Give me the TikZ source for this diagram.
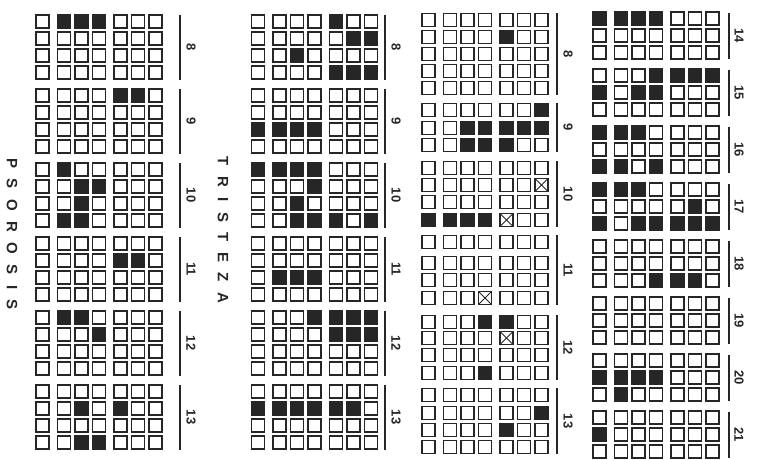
\documentclass[tikz,border=0pt]{standalone}
\usepackage{fontspec}
\usepackage{tikz}
\usetikzlibrary{positioning}
\newfontfamily\numfont{Liberation Sans}
\newfontfamily\titlefont[LetterSpace=70]{Liberation Sans}
\definecolor{ink}{RGB}{38,38,38}

\tikzset{
  cell/.style={draw=ink, line width=1.6pt},
  hit/.style={draw=ink, fill=ink, line width=1.6pt},
  xmark/.style={draw=ink, line width=0.8pt},
  bracket/.style={draw=ink, line width=1.3pt},
  num/.style={font=\numfont\bfseries\fontsize{13}{14}\selectfont, text=ink, rotate=-90, inner sep=0pt},
  title/.style={font=\titlefont\bfseries\fontsize{15}{16}\selectfont, text=ink, rotate=-90, inner sep=0pt}
}
% one square, centred at (#2,#3)
\newcommand{\cellat}[3]{\draw[#1] ({#2-6.5},{#3-6.5}) rectangle ++(13,13);}
% x offset of column #1 inside a band
\newcommand{\colpos}[1]{\pgfmathsetmacro\xo{{0,21.5,39,56.5,78,95.5,113}[#1-1]}}

\begin{document}
\begin{tikzpicture}[x=1pt,y=-1pt]
\useasboundingbox (0,0) rectangle (757,459);

% empty squares
\foreach \bx in {42.5,258}
  \foreach \g in {0,...,5}
    \foreach \r in {0,...,3}
      \foreach \xo in {0,21.5,39,56.5,78,95.5,113}
        {\cellat{cell}{\bx+\xo}{21.5+74*\g+17*\r}}
\foreach \y in {20,37,54,71,88,110,128,145,168,185,202,220,242,263,280,298,322,338,355,373,395,413,430,447}
  \foreach \xo in {0,21.5,39,56.5,78,95.5,113}
    {\cellat{cell}{428.5+\xo}{\y}}
\foreach \g in {0,...,7}
  \foreach \r in {0,1,2}
    \foreach \xo in {0,21.5,39,56.5,78,95.5,113}
      {\cellat{cell}{599.5+\xo}{18.5+57*\g+17*\r}}

% psorosis
\foreach \c/\g/\r in {2/0/0,3/0/0,4/0/0, 5/1/0,6/1/0,
    2/2/0,3/2/1,4/2/1,3/2/2,2/2/3,3/2/3, 5/3/1,6/3/1,
    2/4/0,3/4/0,4/4/1, 3/5/1,5/5/1,3/5/3,4/5/3}{
  \colpos{\c}
  \cellat{hit}{42.5+\xo}{21.5+74*\g+17*\r}
}
% tristeza
\foreach \c/\g/\r in {5/0/0,6/0/1,7/0/1,3/0/2,5/0/3,6/0/3,7/0/3,
    1/1/2,2/1/2,3/1/2,4/1/2,
    1/2/0,2/2/0,3/2/0,4/2/0,4/2/1,3/2/2,3/2/3,4/2/3,5/2/3,7/2/3,
    2/3/2,3/3/2,4/3/2,
    4/4/0,5/4/0,6/4/0,7/4/0,5/4/1,6/4/1,7/4/1,
    1/5/1,2/5/1,3/5/1,4/5/1,5/5/1,6/5/1}{
  \colpos{\c}
  \cellat{hit}{258+\xo}{21.5+74*\g+17*\r}
}
% third band
\foreach \c/\y in {5/37, 7/110, 3/128,4/128,5/128,6/128,7/128, 3/145,4/145,5/145,
    1/220,2/220,3/220,4/220, 4/322,5/322, 4/373, 7/413, 5/430}{
  \colpos{\c}
  \cellat{hit}{428.5+\xo}{\y}
}
\foreach \c/\y in {7/185,5/220,4/298,5/338}{
  \colpos{\c}
  \draw[xmark] ({428.5+\xo-6},{\y-6}) -- ({428.5+\xo+6},{\y+6})
               ({428.5+\xo-6},{\y+6}) -- ({428.5+\xo+6},{\y-6});
}
% fourth band
\foreach \c/\g/\r in {1/0/0,2/0/0,3/0/0,4/0/0,
    4/1/0,5/1/0,6/1/0,7/1/0,1/1/1,3/1/1,4/1/1,
    1/2/0,2/2/0,3/2/0,1/2/2,2/2/2,4/2/2,
    1/3/0,2/3/0,3/3/0,6/3/1,1/3/2,3/3/2,4/3/2,5/3/2,6/3/2,7/3/2,
    4/4/2,5/4/2,6/4/2,
    1/6/1,2/6/1,3/6/1,4/6/1,2/6/2, 1/7/1}{
  \colpos{\c}
  \cellat{hit}{599.5+\xo}{18.5+57*\g+17*\r}
}

% group labels
\foreach \g [evaluate=\g as \n using int(8+\g)] in {0,...,5}{
  \draw[bracket] (180,{21.5+74*\g-7}) -- (180,{21.5+74*\g+58});
  \node[num] (pso-\n) at (191,{21.5+74*\g+25.5}) {\n};
  \draw[bracket] (385,{21.5+74*\g-7}) -- (385,{21.5+74*\g+58});
  \node[num] (tri-\n) at (396,{21.5+74*\g+25.5}) {\n};
}
\foreach \a/\b/\n in {20/88/8,110/145/9,168/220/10,242/298/11,322/373/12,395/447/13}{
  \draw[bracket] (557,\a-7) -- (557,\b+7);
  \node[num] (third-\n) at (568,{(\a+\b)/2}) {\n};
}
\foreach \g [evaluate=\g as \n using int(14+\g)] in {0,...,7}{
  \draw[bracket] (729,{18.5+57*\g-6}) -- (729,{18.5+57*\g+40});
  \node[num] (fourth-\n) at (739,{18.5+57*\g+17}) {\n};
}

\node[title] (psorosis) at (12,234) {PSOROSIS};
\node[title] (tristeza) at (223,230) {TRISTEZA};
\end{tikzpicture}
\end{document}
